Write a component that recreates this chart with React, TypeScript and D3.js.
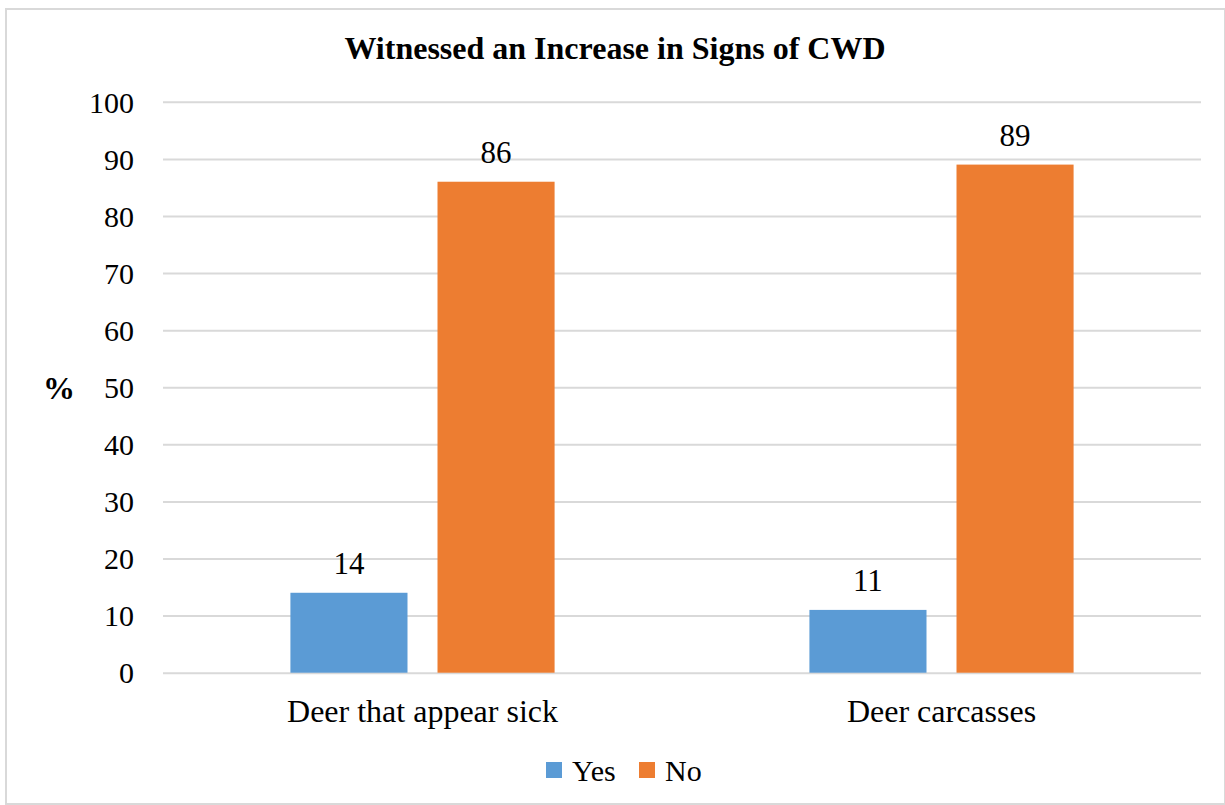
import { useEffect, useRef } from "react";
import * as d3 from "d3";

const categories = ["Deer that appear sick", "Deer carcasses"];
const seriesNames = ["Yes", "No"];
const yesValues = [14, 11];
const noValues = [86, 89];
const yTicks = [0, 10, 20, 30, 40, 50, 60, 70, 80, 90, 100];
const colors = ["#5B9BD5", "#ED7D31"];

const W = 1225;
const H = 805;
const FONT = "Liberation Serif";

const App = () => {
  const ref = useRef<SVGSVGElement>(null);

  useEffect(() => {
    const svg = d3.select(ref.current);
    svg.selectAll("*").remove();

    // borde del gráfico
    svg
      .append("rect")
      .attr("x", 6)
      .attr("y", 9)
      .attr("width", W - 6)
      .attr("height", H - 10)
      .attr("fill", "#fff")
      .attr("stroke", "#d9d9d9")
      .attr("stroke-width", 2);

    const left = 163;
    const right = 1201;
    const top = 101.8;
    const bottom = 672.7;

    const x0 = d3
      .scaleBand<string>()
      .domain(categories)
      .range([left, right])
      .paddingInner(0.491)
      .paddingOuter(0.2455);
    const x1 = d3
      .scaleBand<string>()
      .domain(seriesNames)
      .range([0, x0.bandwidth()])
      .paddingInner(0.204);
    const y = d3.scaleLinear().domain([0, 100]).range([bottom, top]);

    // grid + etiquetas del eje y
    const yAxis = d3
      .axisLeft(y)
      .tickValues(yTicks)
      .tickSize(-(right - left))
      .tickPadding(29)
      .tickFormat((d) => String(d));
    svg
      .append("g")
      .attr("transform", `translate(${left},0)`)
      .call(yAxis)
      .call((g) => g.select(".domain").remove())
      .call((g) =>
        g.selectAll(".tick line").attr("stroke", "#d9d9d9").attr("stroke-width", 2)
      )
      .call((g) =>
        g
          .selectAll(".tick text")
          .style("font-family", FONT)
          .attr("font-size", 30)
          .attr("fill", "#000")
          .attr("dy", "0.34em")
      );

    const data = categories.map((c, i) => ({
      cat: c,
      vals: [
        { s: seriesNames[0], v: yesValues[i] },
        { s: seriesNames[1], v: noValues[i] },
      ],
    }));

    const groups = svg
      .selectAll("g.cat")
      .data(data)
      .enter()
      .append("g")
      .attr("class", "cat")
      .attr("transform", (d) => `translate(${x0(d.cat)},0)`);

    groups
      .selectAll("rect")
      .data((d) => d.vals)
      .enter()
      .append("rect")
      .attr("x", (d) => x1(d.s)!)
      .attr("y", (d) => y(d.v))
      .attr("width", x1.bandwidth())
      .attr("height", (d) => bottom - y(d.v))
      .attr("fill", (d, i) => colors[i]);

    groups
      .selectAll("text.val")
      .data((d) => d.vals)
      .enter()
      .append("text")
      .attr("class", "val")
      .attr("x", (d) => x1(d.s)! + x1.bandwidth() / 2)
      .attr("y", (d) => y(d.v) - 19)
      .attr("text-anchor", "middle")
      .style("font-family", FONT)
      .attr("font-size", 31)
      .attr("fill", "#000")
      .text((d) => d.v);

    // etiquetas de categoría
    svg
      .selectAll("text.catlabel")
      .data(categories)
      .enter()
      .append("text")
      .attr("class", "catlabel")
      .attr("x", (d) => x0(d)! + x0.bandwidth() / 2)
      .attr("y", 722)
      .attr("text-anchor", "middle")
      .style("font-family", FONT)
      .attr("font-size", 32)
      .attr("fill", "#000")
      .text((d) => d);

    // título
    svg
      .append("text")
      .attr("x", 615)
      .attr("y", 59)
      .attr("text-anchor", "middle")
      .style("font-family", FONT)
      .attr("font-weight", "bold")
      .attr("font-size", 32)
      .attr("fill", "#000")
      .text("Witnessed an Increase in Signs of CWD");

    svg
      .append("text")
      .attr("x", 59)
      .attr("y", 399)
      .attr("text-anchor", "middle")
      .style("font-family", FONT)
      .attr("font-weight", "bold")
      .attr("font-size", 32)
      .attr("fill", "#000")
      .text("%");

    // leyenda
    const legendX = [546, 639];
    const leg = svg
      .selectAll("g.leg")
      .data(seriesNames)
      .enter()
      .append("g")
      .attr("class", "leg")
      .attr("transform", (d, i) => `translate(${legendX[i]},762)`);
    leg
      .append("rect")
      .attr("width", 16)
      .attr("height", 16)
      .attr("fill", (d, i) => colors[i]);
    leg
      .append("text")
      .attr("x", 26)
      .attr("y", 19)
      .style("font-family", FONT)
      .attr("font-size", 30)
      .attr("fill", "#000")
      .text((d) => d);
  }, []);

  return (
    <svg
      ref={ref}
      width={W}
      height={H}
      style={{ position: "absolute", left: 0, top: 0 }}
    />
  );
};

export default App;
